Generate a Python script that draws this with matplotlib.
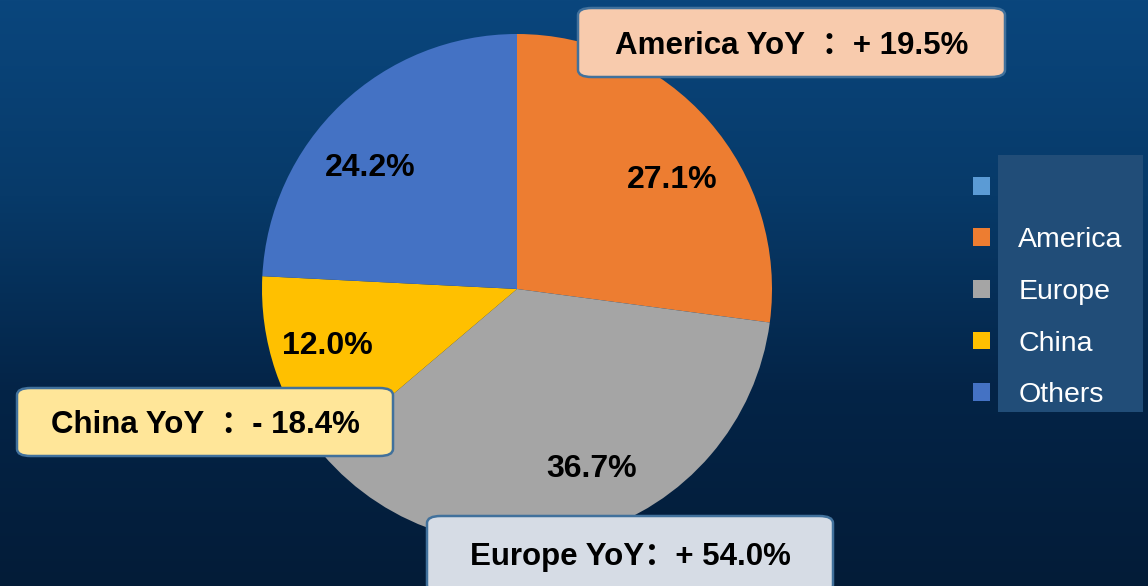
import matplotlib.pyplot as plt
import numpy as np
from matplotlib.patches import FancyBboxPatch, Rectangle, Patch
from matplotlib.colors import LinearSegmentedColormap

# dados
regioes = ['America', 'Europe', 'China', 'Others']
participacao = [27.1, 36.7, 12.0, 24.2]
cores = ['#ED7D31', '#A5A5A5', '#FFC000', '#4472C4']

# legenda (primeira entrada sem nome)
legenda_nomes = ['', 'America', 'Europe', 'China', 'Others']
legenda_cores = ['#5B9BD5', '#ED7D31', '#A5A5A5', '#FFC000', '#4472C4']

# caixas de variação anual
yoy_textos = ['America YoY  \uff1a+ 19.5%', 'China YoY  \uff1a- 18.4%', 'Europe YoY\uff1a+ 54.0%']
yoy_cores = ['#F8CBAD', '#FFE699', '#D6DCE5']

W, H = 1148, 586
fig = plt.figure(figsize=(W / 100, H / 100), dpi=100)
fontes = ['Liberation Sans', 'Noto Sans CJK SC', 'DejaVu Sans']

# fundo em degradê
bg = fig.add_axes([0, 0, 1, 1])
grad = np.linspace(0, 1, 256).reshape(-1, 1)
cmap_bg = LinearSegmentedColormap.from_list('bg', ['#0A467D', '#073A69', '#042447', '#031C38'])
bg.imshow(grad, aspect='auto', cmap=cmap_bg, extent=[0, 1, 0, 1], origin='upper')
bg.set_xlim(0, 1)
bg.set_ylim(0, 1)
bg.axis('off')

# pizza
cx, cy, r = 517, 289, 255
ax = fig.add_axes([(cx - r) / W, (H - cy - r) / H, 2 * r / W, 2 * r / H])
fatias, _, rotulos = ax.pie(participacao, colors=cores, startangle=90, counterclock=False,
                            autopct='%1.1f%%', pctdistance=0.75,
                            textprops={'fontsize': 23, 'fontweight': 'bold', 'color': 'black', 'family': fontes})
# ajuste fino da posição dos rótulos
posicoes = [(0.608, 0.427), (0.294, -0.706), (-0.745, -0.224), (-0.576, 0.474)]
for t, pos in zip(rotulos, posicoes):
    t.set_position(pos)
ax.set_xlim(-1, 1)
ax.set_ylim(-1, 1)
ax.set_aspect('equal')
ax.axis('off')

# caixas
caixas = [(578, 8, 427, 69), (17, 388, 376, 68), (427, 516, 406, 76)]
for (x0, y0, w, h), txt, cor in zip(caixas, yoy_textos, yoy_cores):
    p = FancyBboxPatch((x0 / W, 1 - (y0 + h) / H), w / W, h / H,
                       boxstyle='round,pad=0,rounding_size=0.012',
                       transform=fig.transFigure, facecolor=cor,
                       edgecolor='#41719C', linewidth=1.8, zorder=5)
    fig.add_artist(p)
    fig.text((x0 + w / 2) / W, 1 - (y0 + h / 2 + 3) / H, txt, ha='center', va='center',
             fontsize=22.5, fontweight='bold', color='black', family=fontes, zorder=6)

# legenda
fig.add_artist(Rectangle((998 / W, 1 - 412 / H), 145 / W, 257 / H, transform=fig.transFigure,
                         facecolor='#214D78', edgecolor='none', zorder=3))
handles = [Patch(facecolor=c, edgecolor='none') for c in legenda_cores]
leg = fig.legend(handles, legenda_nomes, loc='center left', bbox_to_anchor=(947 / W, 1 - 292 / H),
                 frameon=False, labelcolor='white', handlelength=0.6,
                 handleheight=0.58, handletextpad=1.0, labelspacing=0.9,
                 prop={'family': fontes, 'size': 20.5})
leg.set_zorder(4)

plt.savefig('out.png', dpi=100)
